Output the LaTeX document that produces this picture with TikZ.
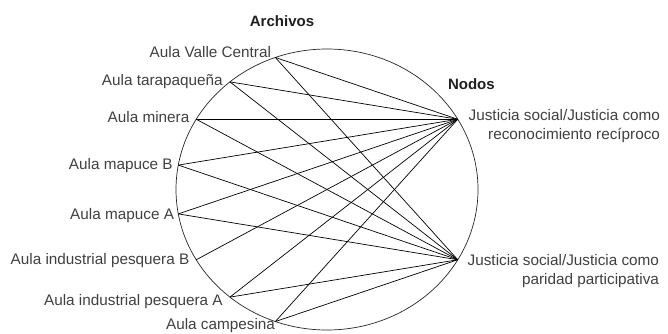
\documentclass[tikz,border=0pt]{standalone}
\usepackage{fontspec}
\setmainfont{Liberation Sans}
\usetikzlibrary{calc}
\begin{document}
\begin{tikzpicture}[x=1pt,y=1pt,
  lab/.style={font=\fontsize{15.3}{18.5}\selectfont, text=black!75, inner sep=0pt, outer sep=0pt},
  ttl/.style={font=\fontsize{15}{18}\selectfont\bfseries, text=black!88, inner sep=0pt, outer sep=0pt},
  link/.style={line width=0.7pt, black},
  rim/.style={line width=0.7pt, black!85}]
\useasboundingbox (0,0) rectangle (668,333);
\coordinate (c) at (327,143.5);
\draw[rim] (c) ellipse [x radius=151, y radius=140.5];
\foreach \n/\a in {vc/110, ta/130, mi/150, mb/170, ma/190, ib/210, ia/230, ca/250, n1/30, n2/-30}
  \coordinate (\n) at ($(c)+(\a:151 and 140.5)$);
\foreach \s in {vc,ta,mi,mb,ma,ib,ia,ca} \draw[link] (\s) -- (n1);
\foreach \s in {vc,ta,mi,mb,ma,ia,ca} \draw[link] (\s) -- (n2);
\node[ttl, anchor=base] (tarch) at (282,307) {Archivos};
\node[ttl, anchor=base west] (tnod) at (448,243.7) {Nodos};
\node[lab, anchor=base east] (lvc) at (271,275.7) {Aula Valle Central};
\node[lab, anchor=base east] (lta) at (222.7,248) {Aula tarapaqueña};
\node[lab, anchor=base east] (lmi) at (189.3,211) {Aula minera};
\node[lab, anchor=base east] (lmb) at (172.7,163.7) {Aula mapuce B};
\node[lab, anchor=base east] (lma) at (174,113.7) {Aula mapuce A};
\node[lab, anchor=base east] (lib) at (189.3,68.7) {Aula industrial pesquera B};
\node[lab, anchor=base east] (lia) at (222.7,28) {Aula industrial pesquera A};
\node[lab, anchor=base east] (lca) at (275,3.3) {Aula campesina};
\node[lab, anchor=base east, align=right] (ln1) at (660,194) {Justicia social/Justicia como\\reconocimiento recíproco};
\node[lab, anchor=base east, align=right] (ln2) at (659,49) {Justicia social/Justicia como\\paridad participativa};
\end{tikzpicture}
\end{document}
